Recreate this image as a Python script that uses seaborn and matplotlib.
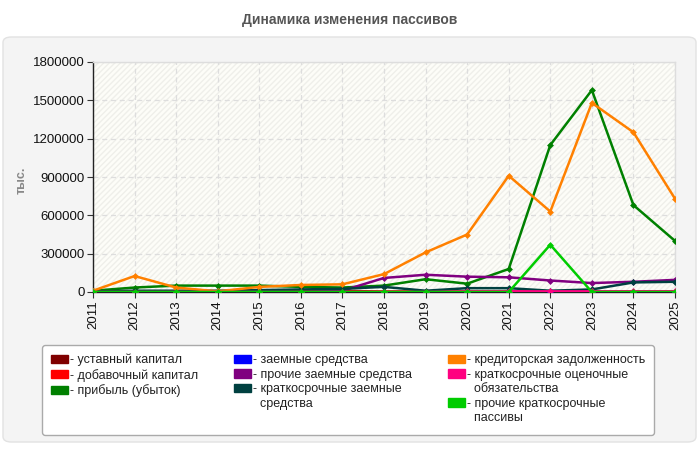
import matplotlib
matplotlib.use("Agg")
import matplotlib.pyplot as plt
from matplotlib.patches import FancyBboxPatch, Rectangle, Patch
import seaborn as sns
import pandas as pd

years = [2011, 2012, 2013, 2014, 2015, 2016, 2017, 2018, 2019, 2020, 2021, 2022, 2023, 2024, 2025]

ustavny = [2000, 2000, 2000, 2000, 2000, 8000, 10000, 2000, 2000, 2000, 2000, 2000, 2000, 2000, 2000]
dobavochny = [0, 0, 3000, 3000, 3000, 3000, 3000, 3000, 3000, 3000, 3000, 3000, 3000, 3000, 3000]
pribyl = [10000, 35000, 50000, 50000, 50000, 40000, 35000, 50000, 100000, 65000, 180000, 1150000, 1580000, 680000, 400000]
zaemnye = [0, 0, 0, 0, 0, 0, 0, 0, 0, 0, 0, 0, 0, 0, 0]
prochie_zaemnye = [0, 0, 0, 0, 0, 0, 10000, 110000, 135000, 120000, 115000, 90000, 70000, 80000, 95000]
kratk_zaemnye = [5000, 10000, 10000, 10000, 15000, 20000, 25000, 40000, 10000, 30000, 30000, 10000, 20000, 75000, 80000]
kreditorskaya = [10000, 125000, 35000, 5000, 40000, 55000, 60000, 140000, 310000, 450000, 910000, 630000, 1480000, 1250000, 730000]
ocenochnye = [0, 0, 0, 0, 0, 0, 0, 0, 0, 5000, 5000, 5000, 5000, 5000, 5000]
prochie_kratk = [0, 0, 0, 0, 0, 0, 0, 0, 0, 0, 0, 370000, 0, 0, 0]

series_names = [
    "уставный капитал",
    "добавочный капитал",
    "прибыль (убыток)",
    "заемные средства",
    "прочие заемные средства",
    "краткосрочные заемные\nсредства",
    "кредиторская задолженность",
    "краткосрочные оценочные\nобязательства",
    "прочие краткосрочные\nпассивы",
]
series_values = [ustavny, dobavochny, pribyl, zaemnye, prochie_zaemnye,
                 kratk_zaemnye, kreditorskaya, ocenochnye, prochie_kratk]
colors = ["#800000", "#FF0000", "#008000", "#0000FF", "#800080",
          "#004040", "#FF8000", "#FF0080", "#00CC00"]

yticks = [0, 300000, 600000, 900000, 1200000, 1500000, 1800000]

rows = []
for name, vals in zip(series_names, series_values):
    for y, v in zip(years, vals):
        rows.append({"year": y, "value": v, "series": name})
df = pd.DataFrame(rows)

sns.set_theme(style="white")
plt.rcParams["font.family"] = ["Liberation Sans", "DejaVu Sans"]

W, H = 700, 450
fig = plt.figure(figsize=(7, 4.5), dpi=100)
fig.patch.set_facecolor("white")

# panel background
panel = FancyBboxPatch((3 / W, 8 / H), 693 / W, 405 / H,
                       boxstyle="round,pad=0,rounding_size=0.012",
                       transform=fig.transFigure, facecolor="#f4f4f4",
                       edgecolor="#e2e2e2", linewidth=1, zorder=-10)
fig.patches.append(panel)

ax = fig.add_axes([93 / W, (H - 292) / H, (675 - 93) / W, (292 - 62) / H])
ax.set_facecolor("#fdfdf8")
ax.add_patch(Rectangle((0, 0), 1, 1, transform=ax.transAxes, facecolor="none",
                       edgecolor="#efefea", hatch="//////", linewidth=0, zorder=0))

sns.lineplot(data=df, x="year", y="value", hue="series", hue_order=series_names,
             palette=colors, marker="D", markersize=3.5, markeredgewidth=0,
             linewidth=1.8, legend=False, ax=ax, zorder=3)

ax.set_xlim(years[0], years[-1])
ax.set_ylim(0, 1800000)
ax.set_xticks(years)
ax.set_xticklabels([str(y) for y in years], rotation=90, fontsize=9.5, color="#111111")
ax.set_yticks(yticks)
ax.set_yticklabels([str(v) for v in yticks], fontsize=9.5, color="#111111")
ax.set_xlabel("")
ax.set_ylabel("")
ax.grid(True, color="#dddddd", linestyle=(0, (4, 3)), linewidth=0.9)
ax.tick_params(axis="both", length=4, width=0.8, color="#333333", pad=2, bottom=True, left=True)
for s in ["top", "right"]:
    ax.spines[s].set_color("#dddddd")
    ax.spines[s].set_linewidth(1)
for s in ["left", "bottom"]:
    ax.spines[s].set_color("#222222")
    ax.spines[s].set_linewidth(1)

fig.text(350 / W, 1 - 20 / H, "Динамика изменения пассивов", ha="center", va="center",
         fontsize=10, fontweight="bold", color="#555555")
fig.text(22 / W, 1 - 180 / H, "тыс.", ha="center", va="center", rotation=90,
         fontsize=9, fontweight="bold", color="#888888")

# legend: continuation lines as separate entries with invisible handles
handles, labels = [], []
col_counts = []
cols = [series_names[0:3], series_names[3:6], series_names[6:9]]
col_colors = [colors[0:3], colors[3:6], colors[6:9]]
col_entries = []
for names, cs in zip(cols, col_colors):
    entries = []
    for n, c in zip(names, cs):
        parts = n.split("\n")
        entries.append((Patch(facecolor=c, edgecolor=c), "- " + parts[0]))
        for p in parts[1:]:
            entries.append((Patch(facecolor="none", edgecolor="none"), "  " + p))
    col_entries.append(entries)
nrows = max(len(e) for e in col_entries)
for entries in col_entries:
    while len(entries) < nrows:
        entries.append((Patch(facecolor="none", edgecolor="none"), " "))
    for h, l in entries:
        handles.append(h)
        labels.append(l)

leg = fig.legend(handles=handles, labels=labels, loc="upper left", ncol=3,
                 bbox_to_anchor=(42 / W, 1 - 345 / H),
                 bbox_transform=fig.transFigure,
                 fontsize=9, frameon=True, fancybox=True, framealpha=1,
                 handlelength=1.35, handleheight=0.65, handletextpad=0.15,
                 labelspacing=0.2, borderpad=0.7, columnspacing=2.9,
                 borderaxespad=0)
leg.get_frame().set_edgecolor("#aaaaaa")
leg.get_frame().set_facecolor("white")
leg.get_frame().set_linewidth(1)
for t in leg.get_texts():
    t.set_color("#222222")

fig.savefig("out.png", dpi=100, facecolor=fig.get_facecolor())
